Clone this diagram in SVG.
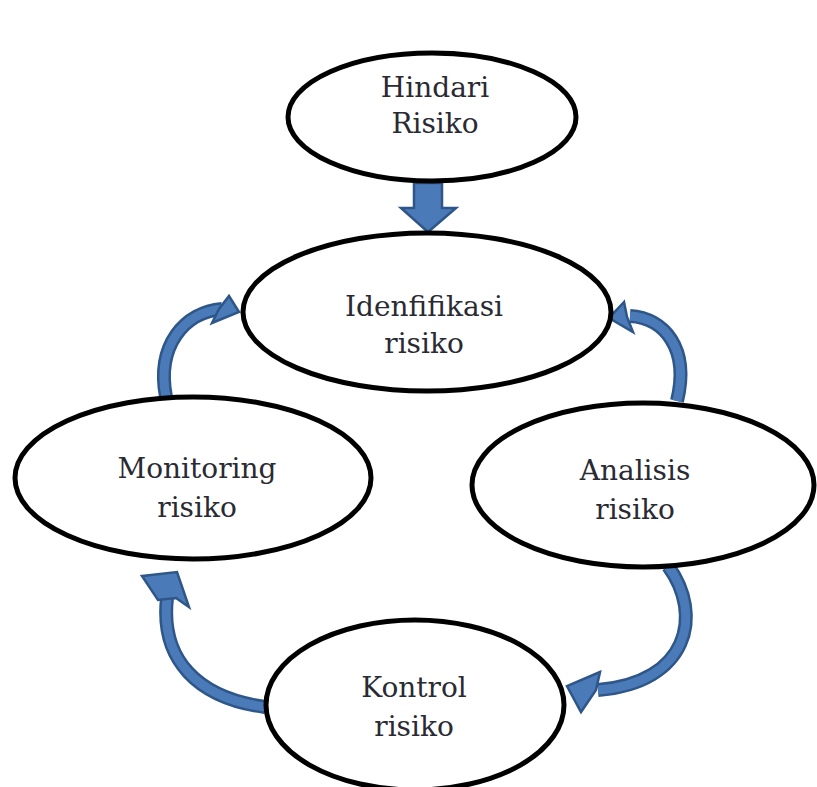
<svg xmlns="http://www.w3.org/2000/svg" width="817" height="787" viewBox="0 0 817 787">
<style>
.node ellipse{fill:#fff;stroke:#000;stroke-width:5}
.node text{font-family:"DejaVu Serif","Liberation Serif",serif;font-size:28px;fill:#2a2a33;text-anchor:middle}
.sh{fill:none;stroke:#2f5688;stroke-width:14;stroke-linecap:butt}
.si{fill:none;stroke:#4a7bb8;stroke-width:9;stroke-linecap:butt}
.hd{fill:#4a7bb8;stroke:#2f5688;stroke-width:2.5;stroke-linejoin:miter}
</style>
<rect width="817" height="787" fill="#fff"/>
<g id="connectors">
<path class="hd" d="M414,183 L442,183 L442,208 L456,208 L428,232 L401,208 L414,208 Z"/>
<path class="sh" d="M166,397 C156,345 185,312 222,309"/>
<path class="si" d="M166,397 C156,345 185,312 222,309"/>
<path class="hd" d="M229,296 L239,312 L212,323 L219,309 Z"/>
<path class="sh" d="M677,401 C690,348 664,318 630,316"/>
<path class="si" d="M677,401 C690,348 664,318 630,316"/>
<path class="hd" d="M624,302 L609,318 L633,332 L627,317 Z"/>
<path class="sh" d="M668,566 C704,615 688,683 598,690"/>
<path class="si" d="M668,566 C704,615 688,683 598,690"/>
<path class="hd" d="M600,672 L567,686 L581,712 L596,690 Z"/>
<path class="sh" d="M265,707 C198,698 160,660 167,598"/>
<path class="si" d="M265,707 C198,698 160,660 167,598"/>
<path class="hd" d="M142,576 L177,572 L189,607 L176,598 L158,600 Z"/>
</g>
<g id="hindari" class="node">
<ellipse cx="432" cy="117" rx="144" ry="64"/>
<text x="435" y="97">Hindari</text>
<text x="435" y="133">Risiko</text>
</g>
<g id="identifikasi" class="node">
<ellipse cx="427" cy="312" rx="184" ry="79"/>
<text x="424" y="316">Idenfifikasi</text>
<text x="424" y="353">risiko</text>
</g>
<g id="monitoring" class="node">
<ellipse cx="193" cy="478" rx="178" ry="81"/>
<text x="197" y="478">Monitoring</text>
<text x="197" y="517">risiko</text>
</g>
<g id="analisis" class="node">
<ellipse cx="643" cy="485" rx="171" ry="82"/>
<text x="635" y="480">Analisis</text>
<text x="635" y="519">risiko</text>
</g>
<g id="kontrol" class="node">
<ellipse cx="415" cy="705" rx="149" ry="85"/>
<text x="414" y="697">Kontrol</text>
<text x="414" y="736">risiko</text>
</g>
</svg>
